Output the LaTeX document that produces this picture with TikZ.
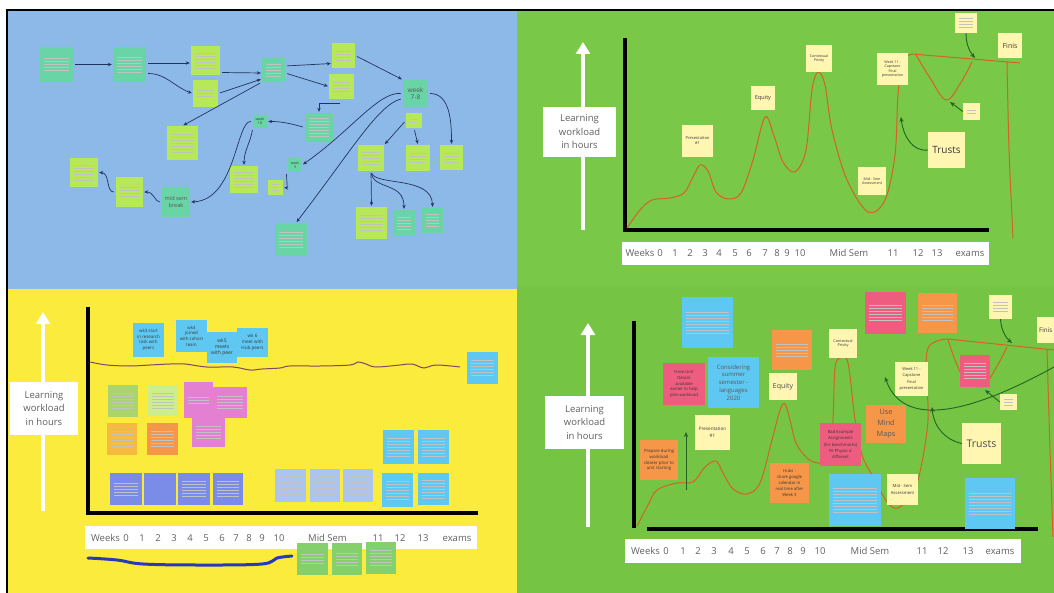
\documentclass[tikz,border=0pt]{standalone}
\usepackage{fontspec}
\setmainfont{Open Sans}
\usetikzlibrary{arrows.meta,calc}
\definecolor{bluebg}{RGB}{141,185,233}
\definecolor{greenbg}{RGB}{122,200,72}
\definecolor{greenbgb}{RGB}{118,196,68}
\definecolor{yellowbg}{RGB}{250,235,60}
\definecolor{mint}{RGB}{105,212,165}
\definecolor{lime}{RGB}{182,232,88}
\definecolor{pale}{RGB}{255,246,178}
\definecolor{sky}{RGB}{95,200,242}
\definecolor{pinkred}{RGB}{238,92,128}
\definecolor{orng}{RGB}{246,150,72}
\definecolor{pinkn}{RGB}{228,128,210}
\definecolor{violetn}{RGB}{122,140,232}
\definecolor{peri}{RGB}{172,196,240}
\definecolor{olive}{RGB}{170,212,110}
\definecolor{lgreen}{RGB}{205,238,140}
\definecolor{oyel}{RGB}{246,186,64}
\definecolor{gnote}{RGB}{132,208,108}
\definecolor{ocol}{RGB}{212,98,40}
\definecolor{dgreen}{RGB}{36,98,36}
\definecolor{navyc}{RGB}{32,52,92}
\definecolor{wavep}{RGB}{130,70,100}
\definecolor{waveb}{RGB}{40,58,185}
\tikzset{
  notebox/.style={rectangle, inner sep=0pt, align=center, text=black!78},
  txtlines/.style={path picture={\foreach \k in {1,...,#1}{\draw[line width=0.4pt,black!24]
      ($(path picture bounding box.west)+(4pt,{((#1+1)/2-\k)*3pt})$) --
      ($(path picture bounding box.east)+(-4pt,{((#1+1)/2-\k)*3pt})$);}}},
  barr/.style={draw=navyc, line width=0.7pt, -{Stealth[length=4pt,width=3.4pt]}, shorten >=1pt, shorten <=2pt},
  garr/.style={draw=dgreen, line width=0.9pt, -{Stealth[length=5pt,width=4.2pt]}},
  warr/.style={draw=white, line width=3.5pt, -{Triangle[length=12pt,width=14pt]}},
  axisline/.style={line width=4.5pt, black},
  ocline/.style={draw=ocol, line width=1pt},
  lwbox/.style={fill=white, inner sep=0pt, align=center, text=black!62, font=\fontsize{9.5}{13.5}\selectfont},
  stripbox/.style={fill=white, inner sep=0pt},
  wklabel/.style={inner sep=0pt, anchor=base, text=black!62, font=\fontsize{9.5}{11}\selectfont}
}
\begin{document}
\begin{tikzpicture}[x=1pt,y=-1pt]
\useasboundingbox (0,0) rectangle (1054,593);
\clip (0,0) rectangle (1054,593);
\fill[white] (0,0) rectangle (1054,593);
\fill[bluebg] (7,10) rectangle (517,289);
\fill[greenbg] (517,10) rectangle (1054,286);
\fill[yellowbg] (7,289) rectangle (517,593);
\fill[greenbgb] (517,286) rectangle (1054,593);
\draw[line width=1.3pt] (7,593) -- (7,10) -- (1054,10);

% ================= BLUE PANEL =================
\node[notebox, fill=mint, minimum width=33pt, minimum height=35pt, txtlines=5] (A) at (56.5,64.5) {};
\node[notebox, fill=mint, minimum width=33pt, minimum height=35pt, txtlines=6] (B) at (129.5,64.5) {};
\node[notebox, fill=lime, minimum width=29pt, minimum height=29pt, txtlines=6] (C) at (205.5,60.5) {};
\node[notebox, fill=lime, minimum width=25pt, minimum height=27pt, txtlines=3] (D) at (205.5,93.5) {};
\node[notebox, fill=mint, minimum width=23pt, minimum height=24pt, txtlines=5] (E) at (273.5,70) {};
\node[notebox, fill=lime, minimum width=23pt, minimum height=25pt, txtlines=4] (F) at (343.5,55.5) {};
\node[notebox, fill=lime, minimum width=25pt, minimum height=25pt, txtlines=4] (G) at (341.5,86.5) {};
\node[notebox, fill=mint, minimum width=25pt, minimum height=27pt, text=black!65, font=\fontsize{6.5}{7.5}\selectfont] (H) at (415.5,93.5) {week\\7-8};
\node[notebox, fill=lime, minimum width=16pt, minimum height=15pt, txtlines=2] (I) at (414,120.5) {};
\node[notebox, fill=mint, minimum width=28pt, minimum height=29pt, txtlines=7] (J) at (319,127.5) {};
\node[notebox, fill=mint, minimum width=14pt, minimum height=13pt, font=\fontsize{3.6}{4.2}\selectfont] (K) at (260,121.5) {week\\10};
\node[notebox, fill=lime, minimum width=31pt, minimum height=34pt, txtlines=7] (L) at (182.5,143) {};
\node[notebox, fill=lime, minimum width=28pt, minimum height=29pt, txtlines=6] (M) at (84,172.5) {};
\node[notebox, fill=lime, minimum width=27pt, minimum height=30pt, txtlines=4] (N) at (129.5,192) {};
\node[notebox, fill=mint, minimum width=28pt, minimum height=30pt, text=black!65, font=\fontsize{5.6}{7}\selectfont] (O) at (176,202) {mid sem\\break};
\node[notebox, fill=mint, minimum width=14pt, minimum height=14pt, font=\fontsize{3.4}{4}\selectfont] (P) at (295,165) {week\\9};
\node[notebox, fill=lime, minimum width=28pt, minimum height=27pt, txtlines=6] (Q) at (244,179.5) {};
\node[notebox, fill=lime, minimum width=15pt, minimum height=15pt, txtlines=3] (R) at (275.5,187.5) {};
\node[notebox, fill=mint, minimum width=32pt, minimum height=33pt, txtlines=6] (S) at (291,239.5) {};
\node[notebox, fill=lime, minimum width=26pt, minimum height=26pt, txtlines=5] (T) at (371,158) {};
\node[notebox, fill=lime, minimum width=24pt, minimum height=26pt, txtlines=4] (U) at (418,158) {};
\node[notebox, fill=lime, minimum width=23pt, minimum height=25pt, txtlines=4] (V) at (451.5,157.5) {};
\node[notebox, fill=lime, minimum width=31pt, minimum height=32pt, txtlines=6] (W) at (371.5,223) {};
\node[notebox, fill=mint, minimum width=22pt, minimum height=26pt, txtlines=5] (X) at (404,223) {};
\node[notebox, fill=mint, minimum width=21pt, minimum height=25pt, txtlines=5] (Y) at (432.5,220.5) {};

\draw[barr] (A.east) -- (B.west);
\draw[barr] ([yshift=1.5pt]B.east) -- ([yshift=-2.5pt]C.west);
\draw[barr] ([yshift=-9pt]B.east) to[out=0,in=160] (D.west);
\draw[barr] ([yshift=-12pt]C.east) -- ([yshift=-3pt]E.west);
\draw[barr] (D.east) -- ([yshift=-9pt]E.west);
\draw[barr] ([yshift=4pt]E.east) -- ([yshift=-8pt]F.west);
\draw[barr] ([yshift=-3pt]E.east) -- (G.west);
\draw[barr] (F.east) -- (H.north west);
\draw[barr] ([yshift=-4pt]G.south) -| (J.north);
\draw[barr] (E.south west) -- (L.north);
\draw[barr] (J.west) to[out=165,in=0] (K.east);
\draw[barr] (K.west) .. controls (236,121) and (236,200) .. (O.east);
\draw[barr] (K.south west) to[out=-100,in=90] (Q.north);
\draw[barr] (H.west) .. controls (378,92) and (352,130) .. (P.east);
\draw[barr] ([yshift=-5pt]H.west) .. controls (378,105) and (352,150) .. ([xshift=5pt]S.north);
\draw[barr] (P.south west) .. controls (286,175) and (288,188) .. (R.east);
\draw[barr] (I.west) -- (T.north east);
\draw[barr] (I.south) -- (U.north);
\draw[barr] (H.east) to[out=0,in=90] (V.north);
\draw[barr] (T.south) -- (W.north);
\draw[barr] (T.south) .. controls (374,190) and (404,182) .. (X.north);
\draw[barr] (T.south) .. controls (376,186) and (432,176) .. (Y.north);
\draw[barr] (O.west) .. controls (155,202) and (154,192) .. (N.east);
\draw[barr] (N.west) .. controls (106,192) and (110,173) .. (M.east);

% ================= TOP RIGHT (GREEN) =================
\coordinate (wa1s) at (583,230);
\coordinate (wa1e) at (583,42);
\draw[warr] (wa1s) -- (wa1e);
\node[lwbox, minimum width=73pt, minimum height=50pt] (lw1) at (579.5,132) {Learning\\workload\\in hours};
\draw[axisline] (625,38) -- (625,230) -- (989,230);
\draw[ocline] plot[smooth, tension=0.55] coordinates {(627,228) (640,210) (652,200) (670,198) (684,193) (693,177) (700,165) (708,171) (716,192) (728,199) (741,193) (753,160) (765,117) (774,136) (783,162) (795,172) (806,150) (812,90) (818,72) (825,85) (832,130) (847,180) (868,212) (885,200) (895,155) (898,95) (903,62) (912,54)};
\draw[ocline] (912,54) -- (1020,63);
\draw[ocline] plot[smooth, tension=0.6] coordinates {(916,55) (930,78) (946,100) (960,84) (972,62)};
\draw[ocline] plot[smooth] coordinates {(1007,62) (1009,150) (1013,238)};

\node[notebox, fill=pale, minimum width=31pt, minimum height=32pt, font=\fontsize{4}{5}\selectfont] (pres1) at (697.5,141) {Presentation\\\#1};
\node[notebox, fill=pale, minimum width=24pt, minimum height=24pt, font=\fontsize{5.5}{6}\selectfont] (eq1) at (763,98) {Equity};
\node[notebox, fill=pale, minimum width=26pt, minimum height=27pt, font=\fontsize{3.6}{4.4}\selectfont] (ctx1) at (819,58.5) {Contextual\\Privity};
\node[notebox, fill=pale, minimum width=28pt, minimum height=28pt, font=\fontsize{3.6}{4.4}\selectfont] (ms1) at (872,181) {Mid - Sem\\Assessment};
\node[notebox, fill=pale, minimum width=31pt, minimum height=32pt, font=\fontsize{3.6}{4.6}\selectfont] (wk11a) at (892.5,69) {Week 11 -\\Capstone\\Final\\presentation};
\node[notebox, fill=pale, minimum width=22pt, minimum height=20pt, txtlines=4] (ts1) at (966,23) {};
\node[notebox, fill=pale, minimum width=24pt, minimum height=25pt, font=\fontsize{7}{8}\selectfont] (fin1) at (1010,45.5) {Finis};
\node[notebox, fill=pale, minimum width=17pt, minimum height=17pt, txtlines=2] (ex1) at (971.5,111.5) {};
\node[notebox, fill=pale, minimum width=37pt, minimum height=36pt, font=\fontsize{10}{11}\selectfont] (trusts1) at (946.5,150) {Trusts};
\coordinate (g1e) at (901,117);
\draw[garr] (trusts1.west) .. controls (912,152) and (903,135) .. (g1e);
\coordinate (g2e) at (950,102);
\draw[garr] (ex1.west) -- (g2e);
\coordinate (g3e) at (975,58);
\draw[garr] (ts1.south) .. controls (966,45) and (970,52) .. (g3e);

\node[stripbox, minimum width=367pt, minimum height=23pt] (strip1) at (805.5,253.5) {};
\foreach \t/\x [count=\i] in {Weeks/640,0/660,1/675,2/690,3/705,4/719,5/735,6/749,7/765,8/777,9/787,10/800,Mid Sem/849,11/893,12/918,13/937,exams/970}
  \node[wklabel] (ta\i) at (\x,257) {\t};

% ================= YELLOW PANEL =================
\coordinate (wa2s) at (43,511);
\coordinate (wa2e) at (43,312);
\draw[warr] (wa2s) -- (wa2e);
\node[lwbox, minimum width=68pt, minimum height=53pt] (lw2) at (44,408.5) {Learning\\workload\\in hours};
\draw[axisline] (88,307) -- (88,513) -- (478,513);
\draw[draw=wavep, line width=1pt] plot[smooth, tension=0.6] coordinates {(90,362) (107,365) (130,366) (150,365) (170,364) (185,364) (207,367) (233,367) (250,370) (262,369) (280,368) (290,366) (320,366) (350,365) (358,362) (366,364) (376,367) (400,365) (412,364) (424,368) (436,365) (460,367)};

\node[notebox, fill=sky, minimum width=31pt, minimum height=34pt, font=\fontsize{4.4}{5.6}\selectfont] (bn1) at (148.5,340) {wk3 start\\in research\\task with\\peers};
\node[notebox, fill=sky, minimum width=31pt, minimum height=32pt, font=\fontsize{4.4}{5.6}\selectfont] (bn2) at (191.5,336) {wk4\\joined\\with cohort\\team};
\node[notebox, fill=sky, minimum width=30pt, minimum height=31pt, font=\fontsize{5}{6.2}\selectfont] (bn3) at (222,347.5) {wk5\\meets\\with peer};
\node[notebox, fill=sky, minimum width=31pt, minimum height=29pt, font=\fontsize{4.6}{5.8}\selectfont] (bn4) at (252.5,342.5) {wk 6\\meet with\\Hub peers};
\node[notebox, fill=sky, minimum width=31pt, minimum height=32pt, txtlines=6] (bn5) at (482.5,368) {};

\node[notebox, fill=olive, minimum width=30pt, minimum height=32pt, txtlines=6] (ol1) at (123,401) {};
\node[notebox, fill=lgreen, minimum width=30pt, minimum height=31pt, txtlines=6] (lg1) at (163,400.5) {};
\node[notebox, fill=pinkn, minimum width=29pt, minimum height=36pt, txtlines=3] (pk1) at (198.5,400) {};
\node[notebox, fill=pinkn, minimum width=34pt, minimum height=31pt, txtlines=5] (pk2) at (230,402.5) {};
\node[notebox, fill=pinkn, minimum width=33pt, minimum height=29pt, txtlines=5] (pk3) at (208.5,432.5) {};
\node[notebox, fill=oyel, minimum width=30pt, minimum height=32pt, txtlines=6] (oy1) at (122,439) {};
\node[notebox, fill=orng, minimum width=31pt, minimum height=32pt, txtlines=6] (or1) at (162.5,439) {};

\node[notebox, fill=violetn, minimum width=32pt, minimum height=32pt, txtlines=5] (vi1) at (126,489) {};
\node[notebox, fill=violetn, minimum width=32pt, minimum height=32pt] (vi2) at (160,489) {};
\node[notebox, fill=violetn, minimum width=32pt, minimum height=32pt, txtlines=6] (vi3) at (194,489) {};
\node[notebox, fill=violetn, minimum width=30pt, minimum height=32pt, txtlines=6] (vi4) at (228,489) {};
\node[notebox, fill=peri, minimum width=31pt, minimum height=33pt, txtlines=7] (pw1) at (290.5,485.5) {};
\node[notebox, fill=peri, minimum width=30pt, minimum height=33pt, txtlines=7] (pw2) at (325,485.5) {};
\node[notebox, fill=peri, minimum width=30pt, minimum height=33pt, txtlines=7] (pw3) at (358,485.5) {};
\node[notebox, fill=sky, minimum width=31pt, minimum height=34pt, txtlines=7] (sb1) at (398.5,447) {};
\node[notebox, fill=sky, minimum width=31pt, minimum height=34pt, txtlines=7] (sb2) at (433.5,447) {};
\node[notebox, fill=sky, minimum width=31pt, minimum height=34pt, txtlines=7] (sb3) at (397.5,490) {};
\node[notebox, fill=sky, minimum width=31pt, minimum height=32pt, txtlines=7] (sb4) at (433.5,489) {};

\node[stripbox, minimum width=392pt, minimum height=23pt] (strip2) at (281,537.5) {};
\foreach \t/\x [count=\i] in {Weeks/105.5,0/126,1/142,2/158,3/174,4/190,5/206,6/222,7/236,8/249,9/262,10/279,Mid Sem/327.5,11/378,12/400,13/423,exams/457}
  \node[wklabel] (tb\i) at (\x,541) {\t};
\draw[waveb, line width=3pt, line cap=round] plot[smooth, tension=0.6] coordinates {(88,558) (117,560) (143,564) (200,565) (262,564) (277,558) (292,556)};
\node[notebox, fill=gnote, minimum width=31pt, minimum height=32pt, txtlines=4] (gn1) at (312.5,559) {};
\node[notebox, fill=gnote, minimum width=30pt, minimum height=32pt, txtlines=5] (gn2) at (347,559) {};
\node[notebox, fill=gnote, minimum width=30pt, minimum height=32pt, txtlines=6] (gn3) at (381,558) {};

% ================= BOTTOM RIGHT (GREEN) =================
\coordinate (wa3s) at (588,527);
\coordinate (wa3e) at (588,323);
\draw[warr] (wa3s) -- (wa3e);
\node[lwbox, minimum width=79pt, minimum height=53pt] (lw3) at (584.5,422.5) {Learning\\workload\\in hours};
\draw[axisline] (634,321) -- (634,528);
\draw[axisline] (647,529) -- (1038,529);
\draw[ocline] plot[smooth, tension=0.55] coordinates {(637,526) (648,505) (657,490) (677,483) (693,482) (705,467) (716,461) (723,473) (733,489) (747,494) (760,483) (772,440) (780,410) (785,404) (790,420) (796,443) (807,458) (818,463) (830,460) (833,420) (835,368) (840,358) (848,363) (855,420) (862,455) (872,475) (887,502) (898,508) (912,494) (920,472) (928,420) (926,370) (928,348) (937,341) (947,339)};
\draw[ocline] (947,339) -- (1054,350);
\draw[ocline] plot[smooth, tension=0.6] coordinates {(948,340) (957,365) (967,382) (983,386) (996,368) (1007,347)};
\draw[ocline] plot[smooth] coordinates {(1047,350) (1050,450) (1053,537)};

\node[notebox, fill=sky, minimum width=51pt, minimum height=51pt, txtlines=8] (bl1) at (707.5,322.5) {};
\node[notebox, fill=pinkred, minimum width=42pt, minimum height=42pt, font=\fontsize{4.2}{5.6}\selectfont] (pr1) at (684,384) {Have Unit\\Details\\available\\earlier to help\\plan workload};
\node[notebox, fill=sky, minimum width=51pt, minimum height=51pt, text=black!65, font=\fontsize{6}{7.8}\selectfont] (cs1) at (733.5,382.5) {Considering\\summer\\semester -\\languages\\2020};
\node[notebox, fill=pale, minimum width=35pt, minimum height=35pt, font=\fontsize{4.6}{6.5}\selectfont] (pre2) at (712.5,432.5) {Presentation\\\#1};
\node[notebox, fill=orng, minimum width=38pt, minimum height=40pt, font=\fontsize{4.3}{5.8}\selectfont] (op1) at (659,460) {Prepare during\\workload\\clearer prior to\\unit starting};
\node[notebox, fill=pale, minimum width=28pt, minimum height=27pt, text=black!70, font=\fontsize{7}{8}\selectfont] (eq2) at (783,386.5) {Equity};
\node[notebox, fill=orng, minimum width=40pt, minimum height=40pt, txtlines=5] (ot1) at (792,350) {};
\node[notebox, fill=orng, minimum width=39pt, minimum height=40pt, font=\fontsize{4.2}{5.8}\selectfont] (oh1) at (789.5,483) {Hubs -\\share google\\calendar in\\real time after\\Week 3};
\node[notebox, fill=pale, minimum width=28pt, minimum height=29pt, font=\fontsize{3.8}{4.8}\selectfont] (ctx2) at (843,343.5) {Contextual\\Privity};
\node[notebox, fill=pinkred, minimum width=41pt, minimum height=42pt, txtlines=6] (pt1) at (885.5,313) {};
\node[notebox, fill=orng, minimum width=39pt, minimum height=40pt, txtlines=6] (ot2) at (937.5,313) {};
\node[notebox, fill=pale, minimum width=23pt, minimum height=24pt, txtlines=4] (ts2) at (1000.5,307) {};
\node[notebox, fill=pale, minimum width=26pt, minimum height=26pt, text width=22pt, align=left, font=\fontsize{6.3}{7}\selectfont] (fin2) at (1050,330) {Finis};
\node[notebox, fill=pale, minimum width=33pt, minimum height=34pt, font=\fontsize{4}{6.3}\selectfont] (w11b) at (911.5,379) {Week 11 -\\Capstone\\Final\\presentation};
\node[notebox, fill=pinkred, minimum width=30pt, minimum height=32pt, txtlines=6] (pr2) at (975,371) {};
\node[notebox, fill=pale, minimum width=17pt, minimum height=16pt, txtlines=3] (sm2) at (1008.5,402) {};
\node[notebox, fill=orng, minimum width=40pt, minimum height=38pt, text=black!65, font=\fontsize{7.3}{11}\selectfont] (um) at (886,424) {Use\\Mind\\Maps};
\node[notebox, fill=pinkred, minimum width=41pt, minimum height=43pt, font=\fontsize{4.2}{6.3}\selectfont] (bad) at (840.5,444.5) {Bad Example\\Assignments\\(for benchmarks)\\Fit Physio is\\different};
\node[notebox, fill=pale, minimum width=39pt, minimum height=41pt, text=black!70, font=\fontsize{10.5}{12}\selectfont] (trusts2) at (981.5,443.5) {Trusts};
\node[notebox, fill=sky, minimum width=52pt, minimum height=52pt, txtlines=9] (bb1) at (855,500) {};
\node[notebox, fill=pale, minimum width=31pt, minimum height=31pt, font=\fontsize{4.2}{6.5}\selectfont] (ms2) at (902.5,489.5) {Mid - Sem\\Assessment};
\node[notebox, fill=sky, minimum width=50pt, minimum height=51pt, txtlines=8] (bb2) at (990,503.5) {};

\coordinate (g4s) at (1054,367);
\coordinate (g4e) at (885,377);
\draw[garr] (g4s) .. controls (985,405) and (905,435) .. (g4e);
\coordinate (g5e) at (932,407);
\draw[garr] (trusts2.west) .. controls (946,440) and (934,428) .. (g5e);
\coordinate (g6e) at (985,390);
\draw[garr] (sm2.west) -- (g6e);
\coordinate (g7e) at (1012,343);
\draw[garr] (ts2.south) .. controls (1001,330) and (1006,338) .. (g7e);
\coordinate (g8s) at (686,490);
\coordinate (g8e) at (686,432);
\draw[garr] (g8s) -- (g8e);

\node[stripbox, minimum width=396pt, minimum height=24pt] (strip3) at (823,551) {};
\foreach \t/\x [count=\i] in {Weeks/645.5,0/666,1/683,2/698,3/714,4/731,5/747,6/763,7/777,8/790,9/803,10/820,Mid Sem/870,11/922,12/943,13/968,exams/1000}
  \node[wklabel] (tc\i) at (\x,554.5) {\t};
\end{tikzpicture}
\end{document}
